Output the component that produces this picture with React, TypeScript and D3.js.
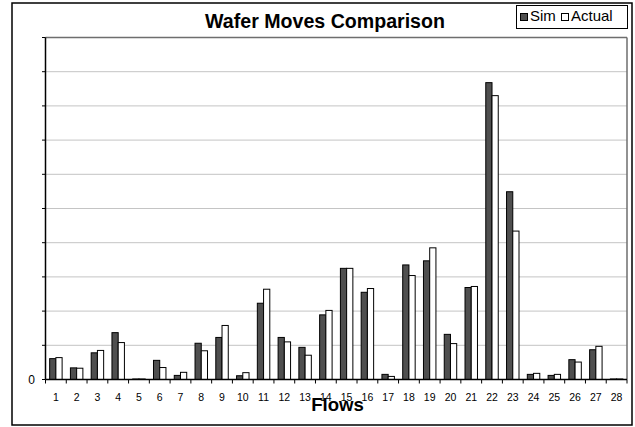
import React from "react";
import * as d3 from "d3";

// Wafer moves per flow, simulation vs. actual
const flows = d3.range(1, 29).map(String);
const simMoves = [610, 340, 780, 1370, 15, 560, 120, 1060, 1230, 110, 2230, 1230, 940, 1890, 3250, 2550, 150, 3350, 3470, 1320, 2690, 8680, 5490, 150, 120, 580, 870, 15];
const actualMoves = [640, 330, 850, 1080, 15, 350, 210, 840, 1580, 200, 2640, 1100, 710, 2020, 3250, 2660, 90, 3040, 3850, 1050, 2720, 8300, 4340, 180, 150, 510, 970, 15];
const yTicks = d3.range(0, 10001, 1000);
const yTickLabels = yTicks.map((v) => (v === 0 ? "0" : ""));

const W = 635;
const H = 427;
const plot = { left: 45.5, right: 627, top: 37.5, bottom: 379.5 };
const font = "'Liberation Sans', Arial, sans-serif";

export default function App() {
  const x = d3.scaleBand<string>().domain(flows).range([plot.left, plot.right]).padding(0);
  const y = d3.scaleLinear().domain([0, 10000]).range([plot.bottom, plot.top]);
  const bw = x.bandwidth() * 0.3;

  return (
    <svg width={W} height={H} style={{ position: "absolute", left: 0, top: 0 }} fontFamily={font}>
      <rect x={0} y={0} width={W} height={H} fill="#fff" />
      {/* outer frame */}
      <rect x={12} y={3} width={620} height={422} fill="none" stroke="#000" strokeWidth={1.5} />

      {/* gridlines */}
      {yTicks.slice(1).map((t) => (
        <line key={t} x1={plot.left} x2={plot.right} y1={y(t)} y2={y(t)} stroke="#c4c4c4" strokeWidth={1} />
      ))}
      {/* plot frame */}
      <line x1={plot.left} x2={plot.right} y1={plot.top} y2={plot.top} stroke="#6e6e6e" strokeWidth={1.5} />
      <line x1={plot.right} x2={plot.right} y1={plot.top} y2={plot.bottom} stroke="#6e6e6e" strokeWidth={1.5} />

      {/* bars */}
      {flows.map((f, i) => {
        const c = (x(f) as number) + x.bandwidth() / 2;
        return (
          <g key={f}>
            <rect x={c - bw} y={y(simMoves[i])} width={bw} height={y(0) - y(simMoves[i])} fill="#4f4f4f" stroke="#000" strokeWidth={1} />
            <rect x={c} y={y(actualMoves[i])} width={bw} height={y(0) - y(actualMoves[i])} fill="#fff" stroke="#000" strokeWidth={1} />
          </g>
        );
      })}

      {/* y axis */}
      <line x1={plot.left} x2={plot.left} y1={plot.top} y2={plot.bottom} stroke="#000" strokeWidth={1.5} />
      {yTicks.map((t, i) => (
        <g key={t}>
          <line x1={plot.left - 3.5} x2={plot.left} y1={y(t)} y2={y(t)} stroke="#000" strokeWidth={1} />
          <text x={35} y={y(t)} dy="0.35em" textAnchor="end" fontSize={12}>
            {yTickLabels[i]}
          </text>
        </g>
      ))}

      {/* x axis */}
      <line x1={plot.left} x2={plot.right} y1={plot.bottom} y2={plot.bottom} stroke="#000" strokeWidth={1.5} />
      {flows.map((f) => (
        <line key={"t" + f} x1={x(f) as number} x2={x(f) as number} y1={plot.bottom} y2={plot.bottom + 4} stroke="#000" strokeWidth={1} />
      ))}
      <line x1={plot.right} x2={plot.right} y1={plot.bottom} y2={plot.bottom + 4} stroke="#000" strokeWidth={1} />
      {flows.map((f) => (
        <text key={"l" + f} x={(x(f) as number) + x.bandwidth() / 2} y={397} dy="0.35em" textAnchor="middle" fontSize={10.5}>
          {f}
        </text>
      ))}
      <text x={337.5} y={411} textAnchor="middle" fontSize={18.6} fontWeight="bold">
        Flows
      </text>

      {/* title */}
      <text x={325} y={27.7} textAnchor="middle" fontSize={19.6} fontWeight="bold">
        Wafer Moves Comparison
      </text>

      {/* legend */}
      <rect x={516.5} y={5.5} width={111} height={23} fill="#fff" stroke="#000" strokeWidth={1} />
      <rect x={520.5} y={13.5} width={7} height={7} fill="#4f4f4f" stroke="#000" strokeWidth={1} />
      <text x={530} y={21.3} fontSize={15}>Sim</text>
      <rect x={561.5} y={13.5} width={7} height={7} fill="#fff" stroke="#000" strokeWidth={1} />
      <text x={571} y={21.3} fontSize={15}>Actual</text>
    </svg>
  );
}
